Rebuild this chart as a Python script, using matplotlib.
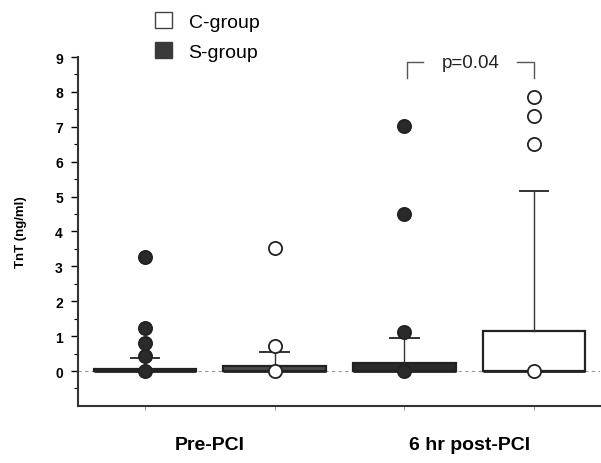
import matplotlib.pyplot as plt
import matplotlib.patches as mpatches
import numpy as np

plt.rcParams["font.family"] = ["Liberation Sans", "DejaVu Sans"]

# box positions: Pre-PCI S, Pre-PCI C, 6 hr S, 6 hr C
POSITIONS = [1, 2, 3, 4]
GROUPS = ["S", "C", "S", "C"]
Q1 = [0.0, 0.0, 0.0, 0.0]
MEDIAN = [0.0, 0.0, 0.0, 0.0]
Q3 = [0.05, 0.15, 0.23, 1.15]
WHISKER_LOW = [0.0, 0.0, 0.0, 0.0]
WHISKER_HIGH = [0.38, 0.54, 0.95, 5.15]
OUTLIERS = [
    [0.0, 0.42, 0.8, 1.23, 3.27],
    [0.0, 0.72, 3.52],
    [0.0, 1.12, 4.5, 7.02],
    [0.0, 6.52, 7.3, 7.85],
]

CATEGORY_LABELS = ["Pre-PCI", "6 hr post-PCI"]
CATEGORY_POS = [1.5, 3.5]
P_TEXT = "p=0.04"

DARK = "#2a2a2a"


def main():
    fig = plt.figure(figsize=(6.01, 4.64), dpi=100)
    ax = fig.add_axes([0.13, 0.123, 0.869, 0.752])

    ax.axhline(0, color="#9a9a9a", linewidth=0.8, linestyle=(0, (3, 3)), zorder=0)

    for i, pos in enumerate(POSITIONS):
        is_s = GROUPS[i] == "S"
        face = DARK if is_s else ("#4a4a4a" if i == 1 else "white")
        stats = {
            "whislo": WHISKER_LOW[i],
            "q1": Q1[i],
            "med": MEDIAN[i],
            "q3": Q3[i],
            "whishi": WHISKER_HIGH[i],
            "fliers": [],
        }
        ax.bxp(
            [stats],
            positions=[pos],
            widths=0.79,
            capwidths=0.22,
            patch_artist=True,
            showfliers=False,
            boxprops=dict(facecolor=face, edgecolor="#222222", linewidth=1.6),
            medianprops=dict(color="#222222", linewidth=2.0),
            whiskerprops=dict(color="#333333", linewidth=1.0),
            capprops=dict(color="#333333", linewidth=1.4),
            manage_ticks=False,
        )
        ax.plot(
            [pos] * len(OUTLIERS[i]),
            OUTLIERS[i],
            linestyle="none",
            marker="o",
            markersize=9.5,
            markerfacecolor=DARK if is_s else "white",
            markeredgecolor="#222222",
            markeredgewidth=1.3,
            zorder=5,
        )

    # significance bracket between the 6 hr groups
    ax.plot([3.02, 3.02, 3.14], [8.4, 8.85, 8.85], color="#555555", linewidth=1.0)
    ax.plot([3.87, 4.0, 4.0], [8.85, 8.85, 8.4], color="#555555", linewidth=1.0)
    ax.text(3.51, 8.85, P_TEXT, ha="center", va="center", fontsize=13.5, color="#222222")

    ax.set_xlim(0.485, 4.51)
    ax.set_ylim(-1, 9)
    ax.set_yticks(np.arange(0, 10, 1))
    ax.set_yticks(np.arange(-0.5, 9, 0.5), minor=True)
    ax.set_xticks(CATEGORY_POS)
    ax.set_xticklabels(CATEGORY_LABELS, fontsize=14, fontweight="bold")
    ax.set_xticks(POSITIONS, minor=True)
    ax.tick_params(axis="x", which="major", length=0, pad=22)
    ax.tick_params(axis="x", which="minor", length=3, color="#888888")
    ax.tick_params(axis="y", which="major", length=5, width=1.0, labelsize=10, pad=6)
    ax.tick_params(axis="y", which="minor", length=3, width=0.8)
    for label in ax.get_yticklabels():
        label.set_fontweight("bold")
    ax.set_ylabel("TnT (ng/ml)", fontsize=9.5, fontweight="bold", labelpad=20)

    ax.spines["top"].set_visible(False)
    ax.spines["right"].set_visible(False)
    ax.spines["left"].set_linewidth(1.5)
    ax.spines["bottom"].set_linewidth(1.5)
    ax.spines["left"].set_color("#333333")
    ax.spines["bottom"].set_color("#333333")

    legend_handles = [
        mpatches.Patch(facecolor="white", edgecolor="#444444", linewidth=1.0, label="C-group"),
        mpatches.Patch(facecolor="#3a3a3a", edgecolor="#3a3a3a", label="S-group"),
    ]
    fig.legend(
        handles=legend_handles,
        loc="upper left",
        bbox_to_anchor=(0.228, 1.01),
        frameon=False,
        fontsize=14,
        handlelength=0.9,
        handleheight=0.9,
        handletextpad=0.85,
        labelspacing=0.6,
    )

    fig.savefig("out.png", dpi=100)
    plt.close(fig)


if __name__ == "__main__":
    main()
